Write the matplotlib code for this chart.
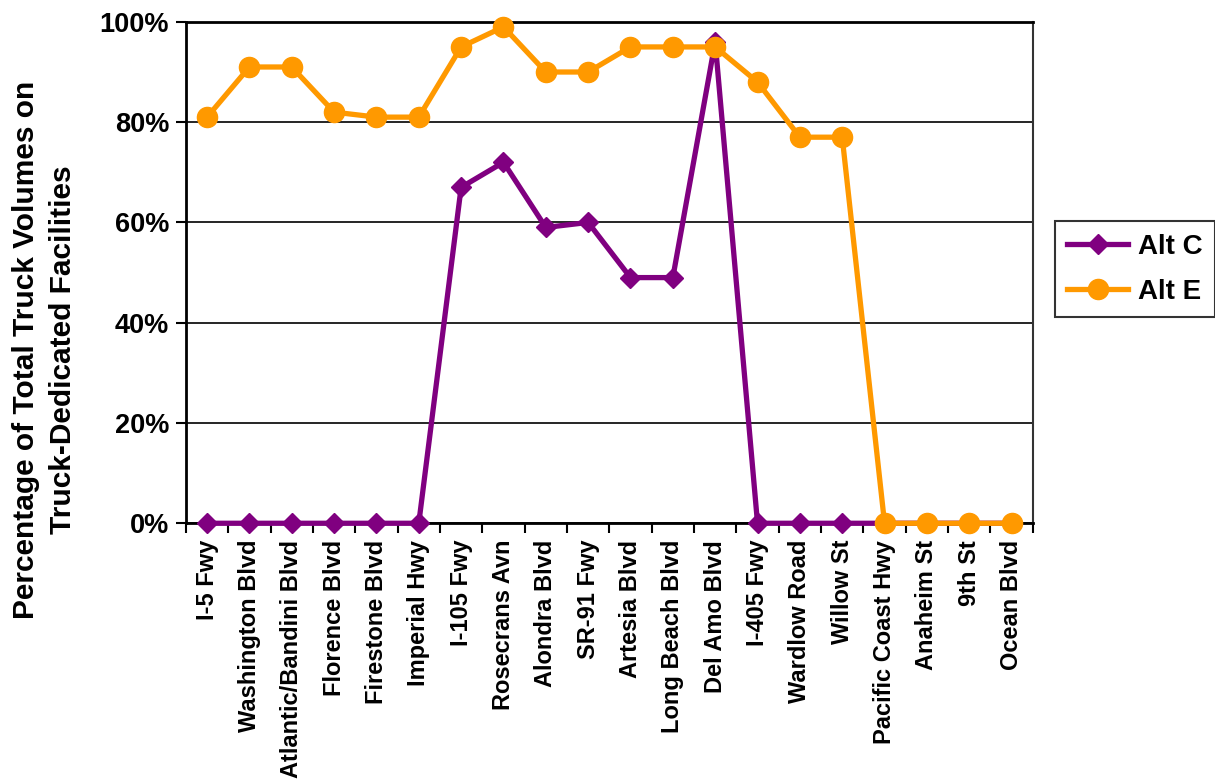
import matplotlib
matplotlib.use("Agg")
import matplotlib.pyplot as plt
from matplotlib.ticker import FixedLocator, FuncFormatter

categories = ["I-5 Fwy", "Washington Blvd", "Atlantic/Bandini Blvd", "Florence Blvd",
              "Firestone Blvd", "Imperial Hwy", "I-105 Fwy", "Rosecrans Avn",
              "Alondra Blvd", "SR-91 Fwy", "Artesia Blvd", "Long Beach Blvd",
              "Del Amo Blvd", "I-405 Fwy", "Wardlow Road", "Willow St",
              "Pacific Coast Hwy", "Anaheim St", "9th St", "Ocean Blvd"]
alt_c = [0, 0, 0, 0, 0, 0, 67, 72, 59, 60, 49, 49, 96, 0, 0, 0, 0, 0, 0, 0]
alt_e = [81, 91, 91, 82, 81, 81, 95, 99, 90, 90, 95, 95, 95, 88, 77, 77, 0, 0, 0, 0]
y_ticks = [0, 20, 40, 60, 80, 100]

plt.rcParams["font.family"] = ["Liberation Sans", "DejaVu Sans"]
plt.rcParams["font.weight"] = "bold"

fig = plt.figure(figsize=(12.15, 7.81), dpi=100)
ax = fig.add_axes([0.153, 0.330, 0.697, 0.642])

x = list(range(len(categories)))
ax.plot(x, alt_c, color="#800080", lw=3.8, marker="D", ms=10.5,
        label="Alt C", zorder=3, clip_on=False)
ax.plot(x, alt_e, color="#FF9900", lw=3.8, marker="o", ms=14.5,
        label="Alt E", zorder=4, clip_on=False)

ax.set_xlim(-0.5, len(categories) - 0.5)
ax.set_ylim(0, 100)
ax.yaxis.set_major_locator(FixedLocator(y_ticks))
ax.yaxis.set_major_formatter(FuncFormatter(lambda v, p: f"{v:.0f}%"))
ax.grid(axis="y", color="black", lw=1.2, zorder=1)

ax.set_xticks(x)
ax.set_xticklabels(categories, rotation=90, fontsize=17, fontweight="bold")
ax.tick_params(axis="x", length=0, pad=12)
ax.set_xticks([i + 0.5 for i in range(-1, len(categories))], minor=True)
ax.tick_params(axis="x", which="minor", length=7, width=1.5, direction="out")
ax.tick_params(axis="y", length=7, width=1.5, labelsize=19.5, pad=5)
for lab in ax.get_yticklabels():
    lab.set_fontweight("bold")

for side in ["left", "bottom", "top"]:
    ax.spines[side].set_linewidth(2)
    ax.spines[side].set_color("black")
ax.spines["right"].set_linewidth(1.5)
ax.spines["right"].set_color("#333333")

fig.text(44.5 / 1215, 1 - 350 / 781,
         "Percentage of Total Truck Volumes on\nTruck-Dedicated Facilities",
         rotation=90, ha="center", va="center", multialignment="center",
         fontsize=21.5, fontweight="bold", linespacing=1.45)

leg = fig.legend(loc="upper left", bbox_to_anchor=(0.868, 0.717),
                 bbox_transform=fig.transFigure, frameon=True,
                 fancybox=False, edgecolor="black",
                 prop={"weight": "bold", "size": 20}, handlelength=2.2,
                 borderpad=0.45, labelspacing=0.7, handletextpad=0.35,
                 borderaxespad=0)
leg.get_frame().set_linewidth(1.5)

fig.savefig("out.png", dpi=100, facecolor="white")
